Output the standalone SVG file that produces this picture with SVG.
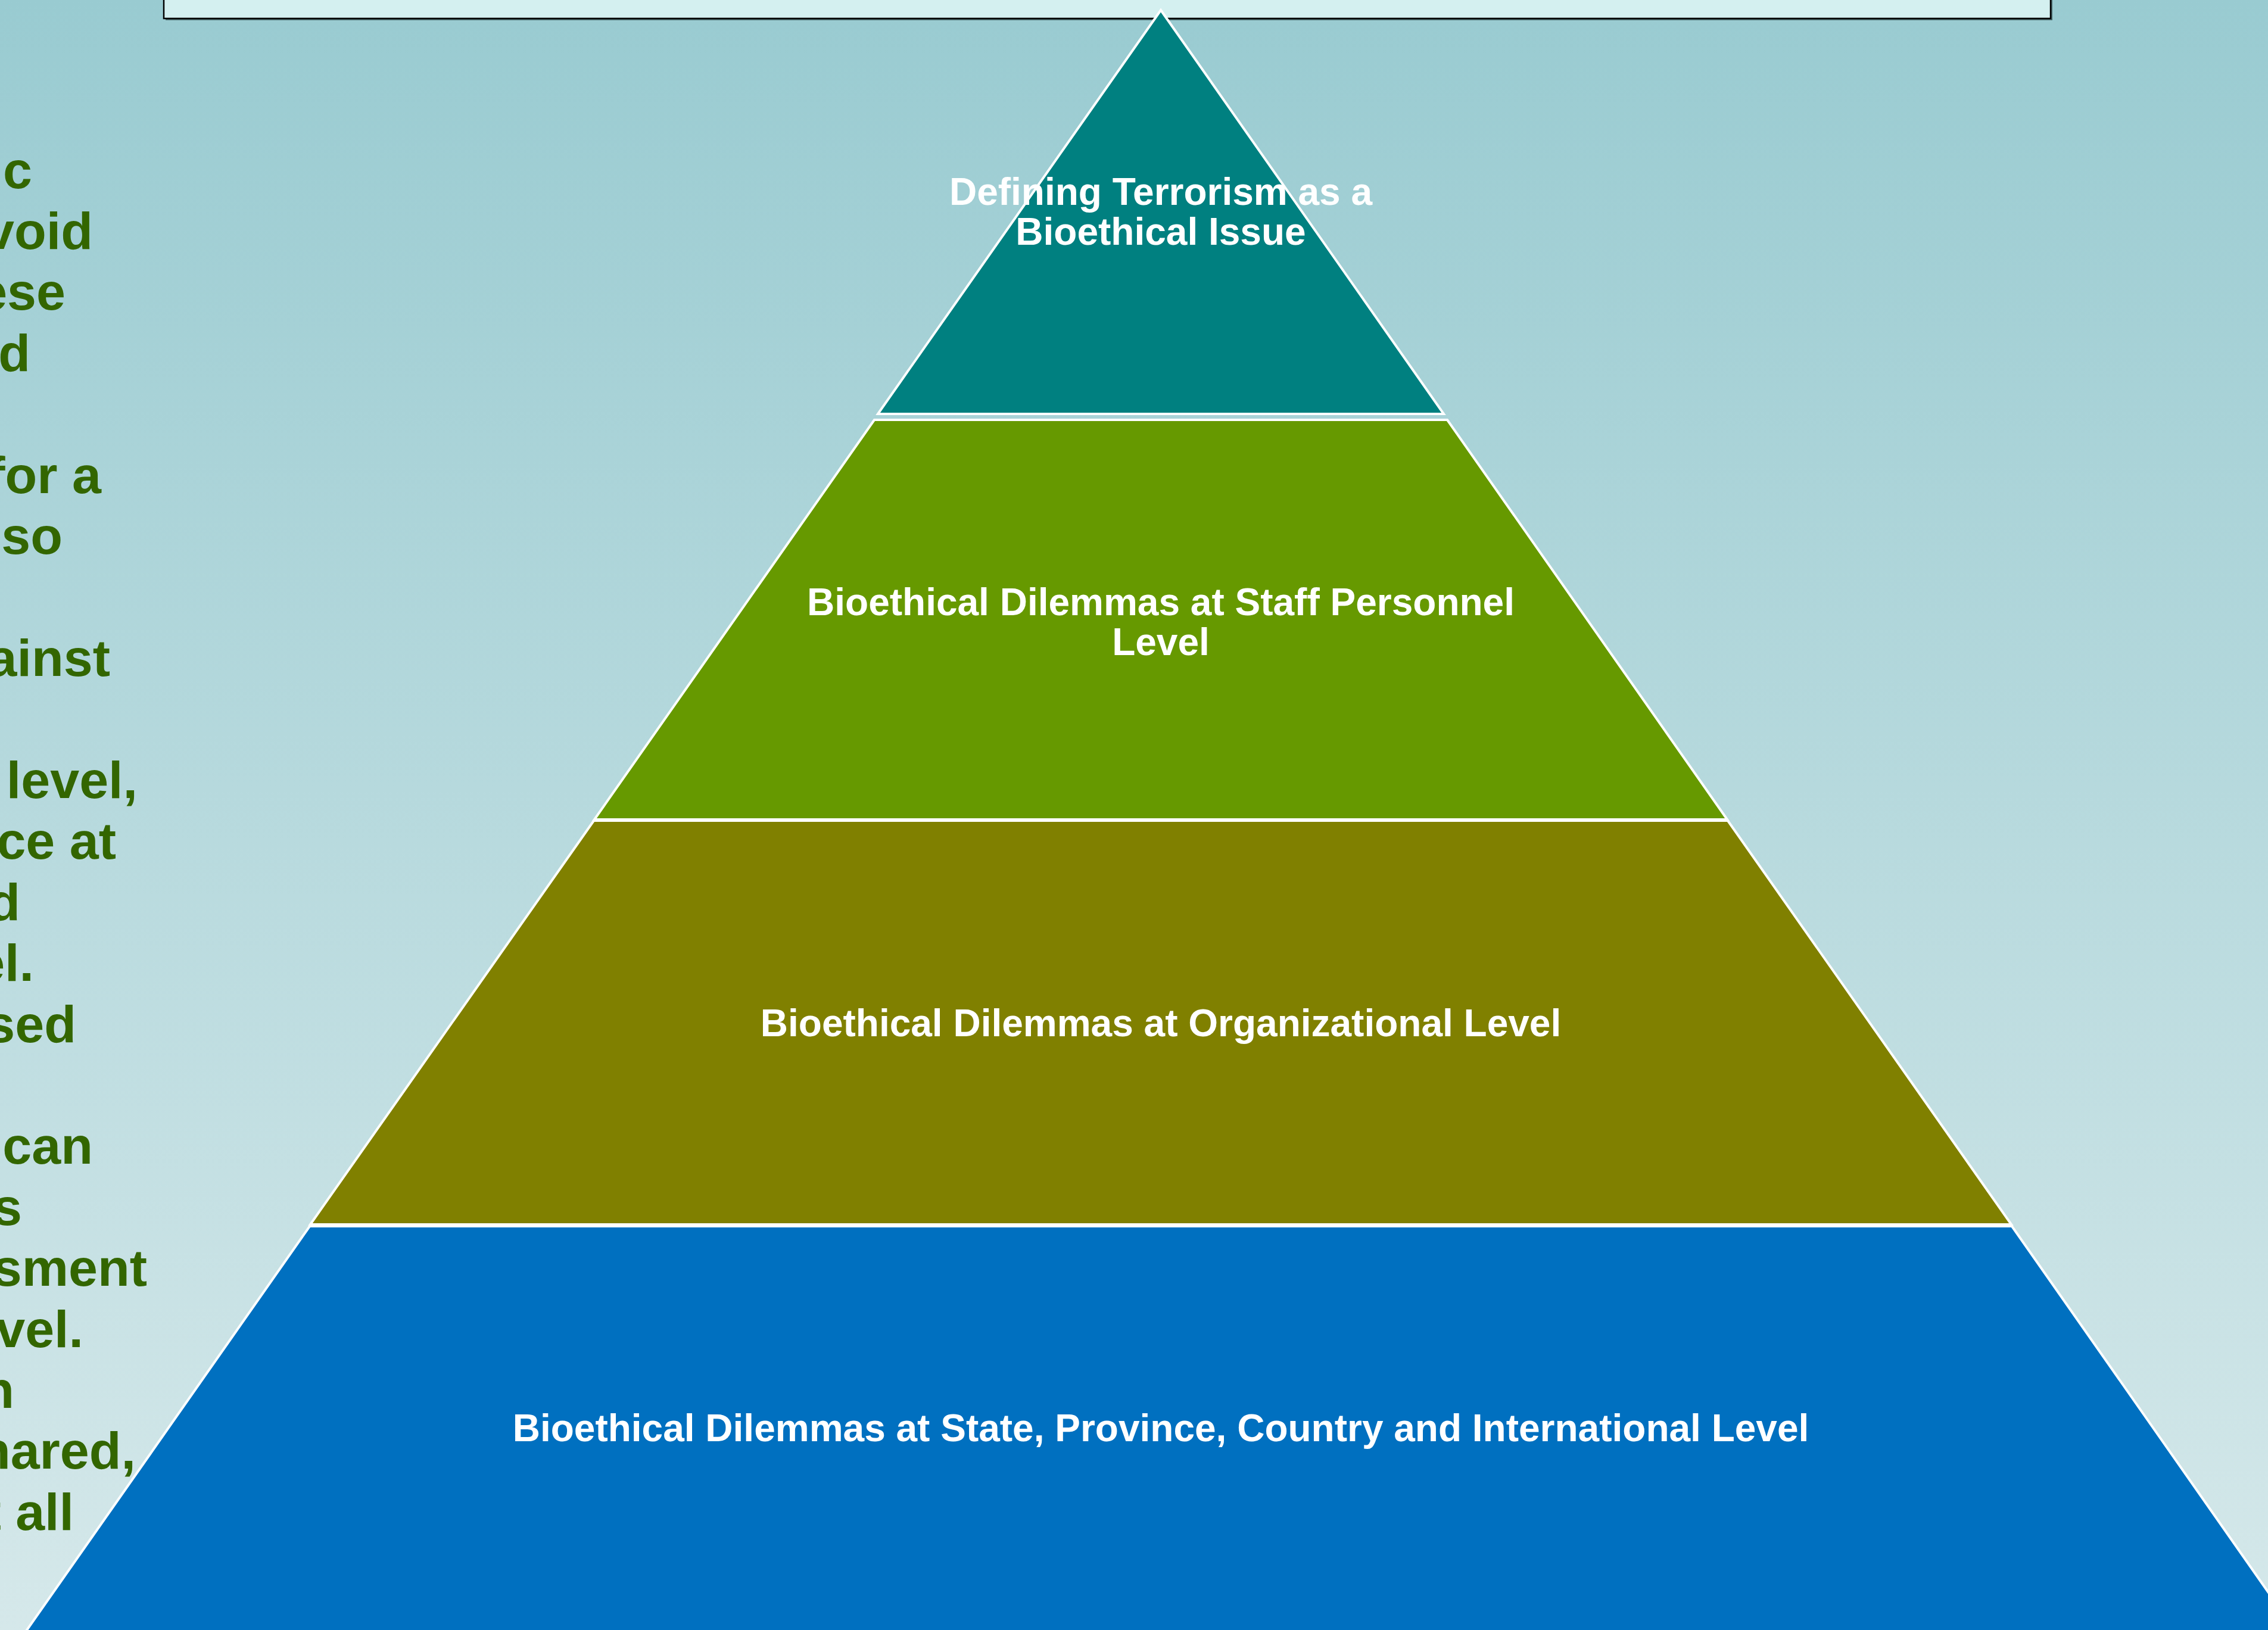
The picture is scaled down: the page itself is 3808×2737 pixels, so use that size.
<svg xmlns="http://www.w3.org/2000/svg" width="3808" height="2737" viewBox="0 0 3808 2737">
<defs>
<linearGradient id="bg" x1="0" y1="0" x2="0" y2="1">
<stop offset="0" stop-color="#99CBD1"/>
<stop offset="1" stop-color="#D5E8EA"/>
</linearGradient>
<style>
.tier{stroke:#FFFFFF;stroke-width:4;stroke-linejoin:miter}
.lbl{font-family:"Liberation Sans",Arial,sans-serif;font-weight:bold;font-size:64px;fill:#FFFFFF;text-anchor:middle}
.side{font-family:"Liberation Sans",Arial,sans-serif;font-weight:bold;font-size:88px;fill:#336600;text-anchor:end}
</style>
</defs>
<rect x="0" y="0" width="3808" height="2737" fill="url(#bg)"/>
<g id="title-box">
<rect x="278" y="-10" width="3168" height="44" fill="#4A6A6C"/>
<rect x="275" y="-10" width="3168" height="41" fill="#D4F0F0" stroke="#000000" stroke-width="2.5"/>
</g>
<g id="side-text">
<text class="side" x="54" y="316">ic</text>
<text class="side" x="156" y="418">void</text>
<text class="side" x="110" y="520">ese</text>
<text class="side" x="51" y="623">d</text>
<text class="side" x="170" y="828">for a</text>
<text class="side" x="105" y="930">lso</text>
<text class="side" x="185" y="1135">ainst</text>
<text class="side" x="231" y="1340">level,</text>
<text class="side" x="195" y="1442">ce at</text>
<text class="side" x="34" y="1545">d</text>
<text class="side" x="57" y="1647">el.</text>
<text class="side" x="128" y="1750">sed</text>
<text class="side" x="156" y="1954">can</text>
<text class="side" x="37" y="2057">s</text>
<text class="side" x="247" y="2159">sment</text>
<text class="side" x="140" y="2262">vel.</text>
<text class="side" x="24" y="2364">n</text>
<text class="side" x="228" y="2466">hared,</text>
<text class="side" x="124" y="2569">t all</text>
</g>
<g id="tier-4">
<polygon class="tier" fill="#0070C0" points="520,2059 3378,2059 3855,2740 43,2740"/>
<text class="lbl" x="1949" y="2420">Bioethical Dilemmas at State, Province, Country and International Level</text>
</g>
<g id="tier-3">
<polygon class="tier" fill="#808000" points="997,1378 2901,1378 3377,2056 521,2056"/>
<text class="lbl" x="1949" y="1740">Bioethical Dilemmas at Organizational Level</text>
</g>
<g id="tier-2">
<polygon class="tier" fill="#669900" points="1468,705 2430,705 2900,1376 998,1376"/>
<text class="lbl" x="1949" y="1033">Bioethical Dilemmas at Staff Personnel</text>
<text class="lbl" x="1949" y="1100">Level</text>
</g>
<g id="tier-1">
<polygon class="tier" fill="#008080" points="1949,17 2424,695 1474,695"/>
<text class="lbl" x="1949" y="344">Defining Terrorism as a</text>
<text class="lbl" x="1949" y="411">Bioethical Issue</text>
</g>
<g id="connectors"></g>
</svg>
